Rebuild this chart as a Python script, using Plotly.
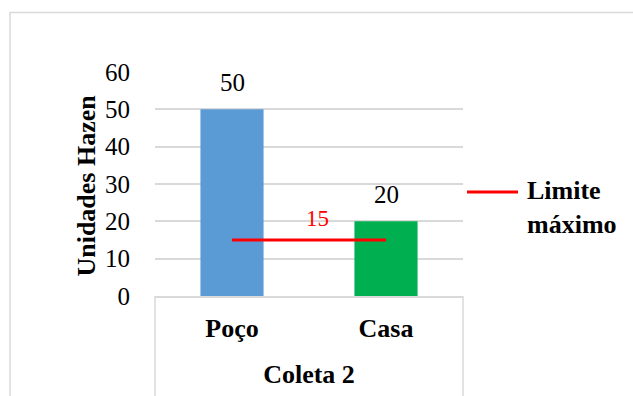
import plotly.graph_objects as go

group = "Coleta 2"
categories = ["Poço", "Casa"]
values = [50, 20]
bar_colors = ["#5B9BD5", "#00B050"]
limit_value = 15
limit_name = "Limite<br>máximo"
y_title = "Unidades Hazen"

serif = "Liberation Serif"
grid = "#D9D9D9"

fig = go.Figure()

fig.add_trace(go.Bar(
    x=categories,
    y=values,
    marker=dict(color=bar_colors, line=dict(width=0)),
    showlegend=False,
))

fig.add_trace(go.Scatter(
    x=categories,
    y=[limit_value] * len(categories),
    mode="lines",
    line=dict(color="#FF0000", width=3),
    showlegend=False,
))

# value labels above the bars
for cat, val in zip(categories, values):
    fig.add_annotation(
        x=cat, y=val, xref="x", yref="y",
        text=str(val), showarrow=False,
        yanchor="middle", yshift=27,
        font=dict(family=serif, size=25, color="#000000"),
    )

# value label for the limit line
fig.add_annotation(
    x=0.526, xref="paper",
    y=limit_value, yref="y",
    text=str(limit_value),
    showarrow=False,
    yanchor="middle", yshift=22,
    font=dict(family=serif, size=23, color="#FF0000"),
)

# legend entry for the limit line
legend_y = 0.4646
fig.add_shape(type="line", xref="paper", yref="paper",
              x0=1.013, x1=1.1786, y0=legend_y, y1=legend_y,
              line=dict(color="#FF0000", width=3))
fig.add_annotation(
    x=1.2013, xref="paper", xanchor="left",
    y=legend_y, yref="paper", yanchor="middle", yshift=-16,
    text=limit_name, showarrow=False, align="left",
    font=dict(family=serif, size=26, color="#000000", weight="bold"),
)

# vertical y-axis title
fig.add_annotation(
    x=-0.2208, xref="paper", xanchor="center",
    y=0.493, yref="paper", yanchor="middle",
    text=y_title, textangle=-90, showarrow=False,
    font=dict(family=serif, size=26, color="#000000", weight="bold"),
)

# outer chart frame
fig.add_shape(type="rect", xref="paper", yref="paper",
              x0=-0.4708, x1=2.0, y0=-1.0, y1=1.2655,
              line=dict(color=grid, width=1.5), layer="below")
# category-axis frame lines
for xv in (0, 1):
    fig.add_shape(type="line", xref="paper", yref="paper",
                  x0=xv, x1=xv, y0=0, y1=-1.0,
                  line=dict(color=grid, width=1.5))

fig.update_layout(
    width=633, height=396,
    margin=dict(l=155, r=170, t=72, b=98),
    paper_bgcolor="white",
    plot_bgcolor="white",
    bargap=0.59,
    showlegend=False,
    font=dict(family=serif, color="#000000"),
    xaxis=dict(
        type="category",
        showline=True, linecolor=grid, linewidth=1.5,
        showgrid=False,
        ticks="",
        tickfont=dict(family=serif, size=26, color="#000000", weight="bold"),
        ticklabelstandoff=8,
        title=dict(
            text=group,
            font=dict(family=serif, size=26, color="#000000", weight="bold"),
            standoff=23,
        ),
    ),
    yaxis=dict(
        range=[0, 60],
        dtick=10,
        showgrid=True, gridcolor=grid, gridwidth=1.5,
        zeroline=False,
        showline=False,
        ticks="",
        tickfont=dict(family=serif, size=25, color="#000000"),
        ticklabelstandoff=24,
    ),
)

fig.write_html("out.html")
